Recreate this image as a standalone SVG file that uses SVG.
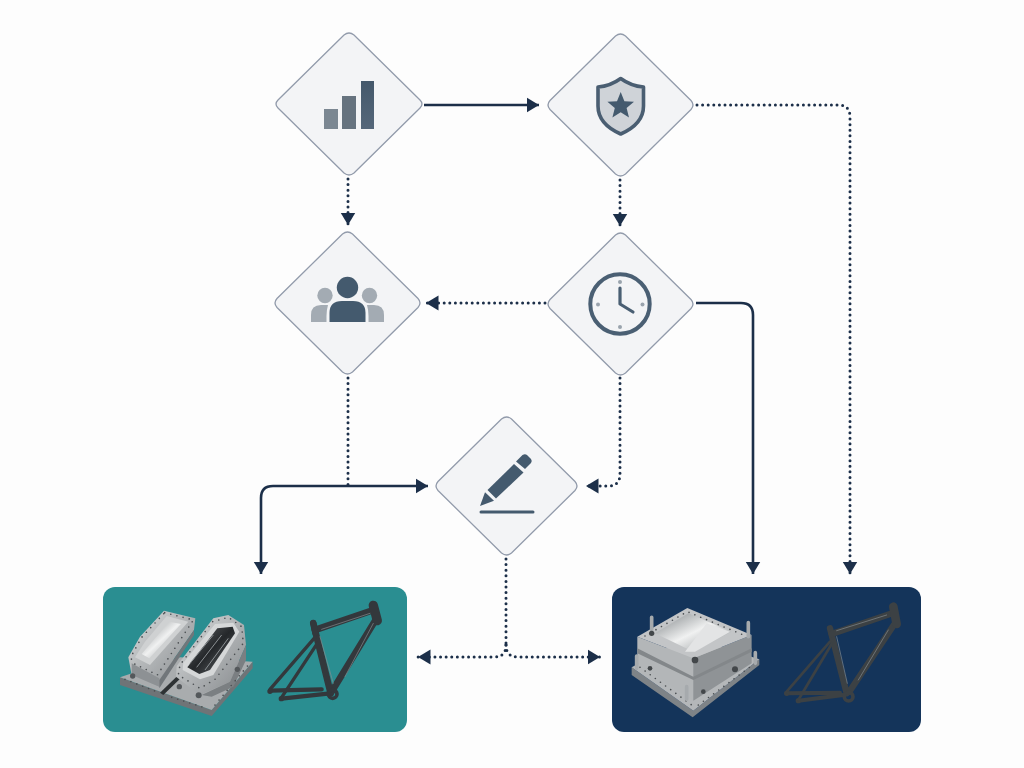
<svg xmlns="http://www.w3.org/2000/svg" width="1024" height="768" viewBox="0 0 1024 768">
<style>
.dia{fill:#f3f4f6;stroke:#929bab;stroke-width:1.3}
.solid,.dot{fill:none;stroke:#1c2f49}
.solid{stroke-width:2.6}
.dot{stroke-width:3;stroke-linecap:round;stroke-dasharray:0 5.6}
.arr{marker-end:url(#ah)}
.dk{fill:#445a6e}
.lt{fill:#a3abb3}
.frameT{fill:none;stroke:#33383c;stroke-linecap:round;stroke-linejoin:round}
.frameN{fill:none;stroke:#3c4144;stroke-linecap:round;stroke-linejoin:round}
.bolts{fill:none;stroke:#4b4f52;stroke-width:5;stroke-linecap:round;stroke-dasharray:0 19}
.hi{fill:none;stroke:#868c90;stroke-width:2;stroke-linecap:round}
</style>
<defs>
<marker id="ah" markerUnits="userSpaceOnUse" markerWidth="14" markerHeight="18" refX="12.500" refY="9" orient="auto"><path d="M0,1.500L12.500,9L0,16.500Z" fill="#1c2f49"/></marker>
<linearGradient id="metal" x1="0" y1="0" x2="1" y2="1"><stop offset="0" stop-color="#dcdedf"/><stop offset=".5" stop-color="#b0b3b5"/><stop offset="1" stop-color="#85898c"/></linearGradient>
<linearGradient id="shine" x1="0" y1="0" x2="1" y2="1"><stop offset="0" stop-color="#7c8184"/><stop offset=".5" stop-color="#f0f1f1"/><stop offset="1" stop-color="#858a8d"/></linearGradient>
<linearGradient id="cav" x1="0" y1="0" x2="1" y2="1"><stop offset="0" stop-color="#65696c"/><stop offset=".5" stop-color="#24272a"/><stop offset="1" stop-color="#65696c"/></linearGradient>
<linearGradient id="bar" x1="0" y1="0" x2="0" y2="1"><stop offset="0" stop-color="#44586b"/><stop offset="1" stop-color="#55677a"/></linearGradient>
</defs>
<rect width="1024" height="768" fill="#fdfdfd"/>

<g id="connectors">
<path class="solid arr" d="M424,105H539"/>
<path class="dot arr" d="M348,179V225"/>
<path class="dot arr" d="M620,180V226"/>
<path class="dot arr" d="M697,105H838Q850,105 850,117V574"/>
<path class="dot arr" d="M545,303H426"/>
<path class="solid arr" d="M696,303H741Q753,303 753,315V574"/>
<path class="dot arr" d="M620,378V474Q620,486 608,486H586"/>
<path class="dot" d="M348,378V485"/>
<path class="solid arr" d="M273,486H428"/>
<path class="solid arr" d="M273,486Q261,486 261,498V574"/>
<path class="dot" d="M506,559V645"/>
<path class="dot arr" d="M506,645Q506,657 494,657H418"/>
<path class="dot arr" d="M506,645Q506,657 518,657H600"/>
</g>

<g id="node-chart">
<path class="dia" d="M344,35Q349,31 354,35L420,100Q424,104 420,108L354,173Q349,177 344,173L278,108Q274,104 278,100Z"/>
<rect x="324" y="109" width="14" height="20" fill="#7b8792"/>
<rect x="342" y="96" width="14" height="33" fill="#66737f"/>
<rect x="361" y="81" width="13" height="48" fill="url(#bar)"/>
</g>

<g id="node-shield">
<path class="dia" d="M615.500,36Q620.500,32 625.500,36L691,100.500Q695,105 691,109.500L625.500,174Q620.500,178 615.500,174L550,109.500Q546,105 550,100.500Z"/>
<path d="M620.700,78.500Q631,86 643.500,87V106Q643.500,124 620.700,134Q598,124 598,106V87Q610.500,86 620.700,78.500Z" fill="#cfd3d8" stroke="#4a5e72" stroke-width="3.600" stroke-linejoin="round"/>
<path class="dk" d="M620.700,92L624.400,101.200L634,101.800L626.600,108L629,117.500L620.700,112.300L612.400,117.500L614.800,108L607.400,101.800L617,101.200Z"/>
</g>

<g id="node-people">
<path class="dia" d="M342.500,234Q347.500,230 352.500,234L418,298.500Q422,303 418,307.500L352.500,372Q347.500,376 342.500,372L277,307.500Q273,303 277,298.500Z"/>
<circle class="lt" cx="325" cy="295.500" r="7.700"/>
<circle class="lt" cx="369.500" cy="295.500" r="7.700"/>
<path class="lt" d="M311,322V315Q311,305 321,305H328Q326.500,310 326.500,316V322Z"/>
<path class="lt" d="M384,322V315Q384,305 374,305H367Q368.500,310 368.500,316V322Z"/>
<circle class="dk" cx="347.500" cy="287.500" r="10.700"/>
<path class="dk" d="M329.500,322V313Q329.500,301 342,301H353Q365.500,301 365.500,313V322Z"/>
</g>

<g id="node-clock">
<path class="dia" d="M615.500,235Q620.500,231 625.500,235L691,299.500Q695,304 691,308.500L625.500,373Q620.500,377 615.500,373L550,308.500Q546,304 550,299.500Z"/>
<circle cx="620" cy="304" r="29.700" fill="none" stroke="#4a5f73" stroke-width="4"/>
<path d="M620,288V304L633,312" fill="none" stroke="#4a5f73" stroke-width="3.200" stroke-linecap="round" stroke-linejoin="round"/>
<g fill="#9aa3ad"><circle cx="620" cy="282" r="2"/><circle cx="642.500" cy="304.500" r="2"/><circle cx="620" cy="327" r="2"/><circle cx="598" cy="304.500" r="2"/></g>
</g>

<g id="node-pencil">
<path class="dia" d="M501.500,419Q506.500,415 511.500,419L575,481.500Q579,486 575,490.500L511.500,553Q506.500,557 501.500,553L438,490.500Q434,486 438,481.500Z"/>
<path class="dk" d="M480,506L485,492.300L494,500.700Z"/>
<path class="dk" d="M487.500,490L514,464L523.500,472.500L496,498.500Z"/>
<path class="dk" d="M516,461.500L522.500,455Q525,453.500 527,455L531,459Q532.500,461 531,463L525,469Z"/>
<path d="M481,512H533" stroke="#445a6e" stroke-width="3" stroke-linecap="round"/>
</g>

<g id="node-teal">
<rect x="103" y="587" width="304" height="145" rx="12" fill="#2a8e91"/>
<g transform="translate(100,580) scale(.3333)">
<path d="M60,292V315L335,408L458,265V245L335,390Z" fill="#6f7477"/>
<path d="M60,292L240,232L458,245L335,390Z" fill="#a9acae"/>
<path d="M235,285L180,338L190,345L245,292Z" fill="#2e3234"/>
<path d="M192,92L286,115L282,150L178,300L178,320L95,285L85,232L120,170Z" fill="url(#metal)"/>
<path d="M95,285V250L178,295V320Z" fill="#8d9194"/>
<path d="M178,300L282,150V165L178,325Z" fill="#71767a"/>
<path d="M200,108L265,125L150,255L105,232L135,185Z" fill="#cfd1d2"/>
<path d="M208,125L243,132L148,235L125,222Z" fill="url(#shine)"/>
<path class="bolts" d="M194,98L280,120L172,285L100,250L92,232L125,172Z"/>
<path d="M340,115L385,105L432,135L438,195L390,305L300,345L228,290L230,258Z" fill="url(#metal)"/>
<path d="M345,132L400,128L418,155L340,285L300,298L248,270L250,248Z" fill="#d5d7d8"/>
<path d="M352,145L398,140L405,160L330,270L298,282L262,262Z" fill="url(#cav)"/>
<path d="M305,345L390,305L438,195V240L400,320L335,350Z" fill="#7b7f82"/>
<path class="bolts" d="M338,125L385,112L425,140L430,190L345,298L300,325L235,285L240,255Z"/>
<path d="M270,250L340,165M290,262L365,165M315,270L385,175" stroke="#8b9093" stroke-width="3" fill="none"/>
<g fill="#54585b"><circle cx="98" cy="288" r="8"/><circle cx="238" cy="320" r="8"/><circle cx="296" cy="346" r="9"/><circle cx="412" cy="268" r="8"/></g>
<path class="bolts" d="M75,298L165,333M215,352L320,385M345,375L445,255" stroke="#63686b" stroke-width="4"/>
</g>
<g transform="translate(100,580) scale(.3333)" class="frameT">
<path stroke-width="20" d="M640,130L692,340M830,115L695,335"/>
<path stroke-width="20" d="M645,150L815,92"/>
<path stroke-width="28" d="M820,76L832,122"/>
<path stroke-width="18" d="M640,128L646,160"/>
<path stroke-width="10" d="M645,172L510,328M652,190L545,352"/>
<path stroke-width="13" d="M510,332L665,328M545,356L690,340"/>
<circle cx="698" cy="342" r="13" stroke-width="11"/>
<circle cx="510" cy="334" r="5" stroke-width="6"/><circle cx="544" cy="356" r="5" stroke-width="6"/>
<path class="hi" d="M735,290L820,130M660,170L700,310M665,148L810,100"/>
</g>
</g>

<g id="node-navy">
<rect x="612" y="587" width="309" height="145" rx="12" fill="#14345a"/>
<g transform="translate(610,580) scale(.3333)">
<path d="M65,262V285L248,412L448,255V238L250,392Z" fill="#7e8387"/>
<path d="M65,262L235,170L448,238L250,392Z" fill="#b4b7b9"/>
<path d="M82,170V250L250,362V235Z" fill="#b3b6b8"/>
<path d="M250,235V362L425,250V165Z" fill="#8f9396"/>
<path d="M82,170L232,84L425,165L250,235Z" fill="#c3c5c7"/>
<path d="M135,160L235,100L365,155L250,215Z" fill="url(#shine)"/>
<path d="M225,215L290,130L360,155L255,215Z" fill="#e3e4e5"/>
<path d="M82,205L250,290V300L82,220ZM250,290L425,205V215L250,300Z" fill="#83878a"/>
<path class="bolts" d="M90,262L245,375M265,375L435,250" stroke="#5a5e61" stroke-width="4"/>
<path class="bolts" d="M105,168L232,95L400,165" stroke-width="4"/>
<g stroke="#a6aaad" stroke-width="11" stroke-linecap="round"><path d="M125,112V150M415,128V170M80,228V265M230,320V358M436,218V250"/></g>
<g fill="#43474a"><circle cx="255" cy="240" r="10"/><circle cx="125" cy="160" r="8"/><circle cx="375" cy="268" r="9"/><circle cx="120" cy="265" r="7"/><circle cx="280" cy="335" r="7"/></g>
</g>
<g transform="translate(610,580) scale(.3333)" class="frameN">
<path stroke-width="19" d="M660,145L710,340M855,130L718,335"/>
<path stroke-width="19" d="M665,162L840,102"/>
<path stroke-width="26" d="M850,80L860,132"/>
<path stroke-width="8" d="M660,185L530,335M665,192L565,360"/>
<path stroke-width="12" d="M530,340L690,338M565,362L700,345"/>
<circle cx="716" cy="350" r="13" stroke-width="11"/>
<circle cx="530" cy="340" r="5" stroke-width="6"/><circle cx="565" cy="362" r="5" stroke-width="6"/>
<path class="hi" d="M745,300L835,150M680,170L712,310M680,152L830,105" stroke="#a4a9ac"/>
</g>
</g>
</svg>
